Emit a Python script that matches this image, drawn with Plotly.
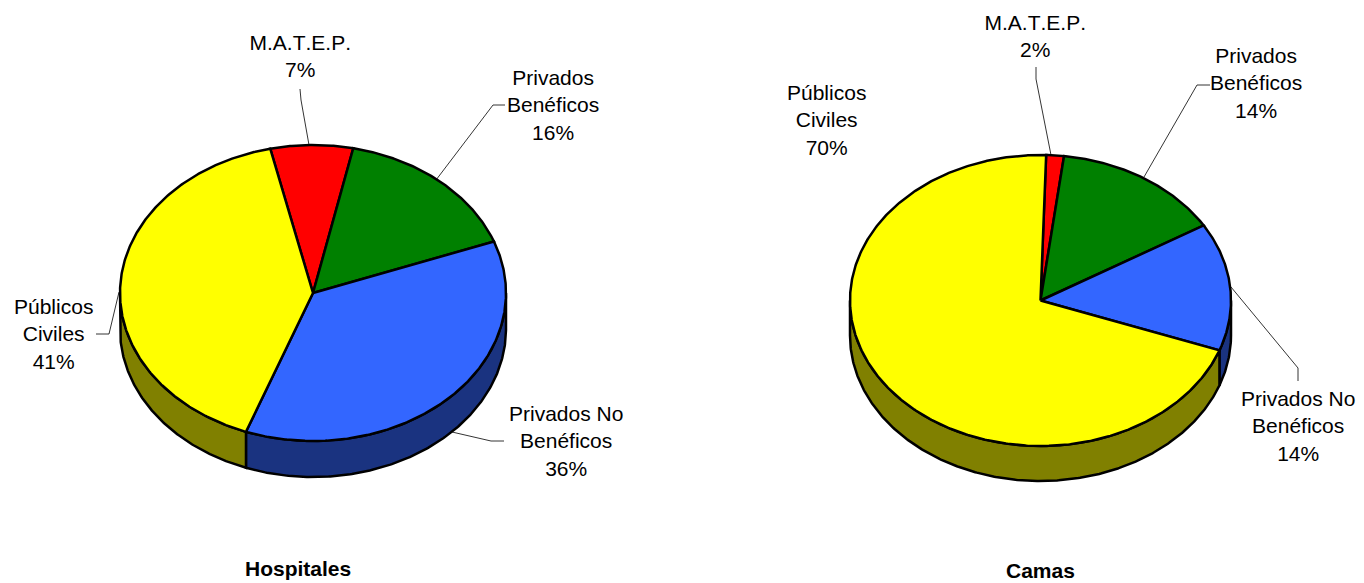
import numpy as np
import plotly.graph_objects as go

categories = ["M.A.T.E.P.", "Privados<br>Benéficos", "Privados No<br>Benéficos", "Públicos<br>Civiles"]
hospitales_values = [6.9, 16.0, 36.3, 40.8]
camas_values = [1.5, 14.4, 14.2, 69.9]
titles = ["Hospitales", "Camas"]

top_colors = ["#FF0000", "#008000", "#3366FF", "#FFFF00"]
side_colors = ["#800000", "#004000", "#1A3380", "#808000"]

# Layout of each pie: centre, radii, depth, start angle (clockwise from top), label and leader placement
pies = [
    dict(values=hospitales_values, title=titles[0], cx=313, cy=293, rx=193, ry=148, depth=36, start=347.2,
         title_pos=(298, 568),
         label_pos=[(300, 55.5), (553, 104.5), (566, 440.5), (53, 333.5)],
         leaders=[[(300, 89), (301, 100), (309, 145)],
                  [(505, 105), (493, 105), (436, 180)],
                  [(452, 432), (491, 441), (504, 441)],
                  [(96, 334), (109, 334), (119, 292)]]),
    dict(values=camas_values, title=titles[1], cx=1040.5, cy=300.5, rx=190.5, ry=145.5, depth=35, start=1.7,
         title_pos=(1040, 570.5),
         label_pos=[(1035, 35.5), (1256, 83), (1298, 425.5), (826, 120)],
         leaders=[[(1036, 67), (1036, 79), (1051, 155)],
                  [(1210, 85), (1197, 85), (1144, 177)],
                  [(1231, 287), (1298, 368), (1298, 381)]]),
]

FONT = "Liberation Sans, Arial, sans-serif"
LW = 2.5


def arc(p, a0, a1, dy=0.0, n=None):
    n = n or max(2, int(abs(a1 - a0) * 2) + 2)
    t = np.radians(np.linspace(a0, a1, n))
    return p["cx"] + p["rx"] * np.sin(t), p["cy"] - p["ry"] * np.cos(t) + dy


def poly(fig, x, y, fill, width=LW):
    fig.add_trace(go.Scatter(x=np.append(x, x[0]), y=np.append(y, y[0]), mode="lines", fill="toself",
                             fillcolor=fill, line=dict(color="black", width=width),
                             hoverinfo="skip", showlegend=False))


fig = go.Figure()
annotations = []
for p in pies:
    vals = np.array(p["values"], dtype=float)
    edges = p["start"] + np.concatenate([[0], np.cumsum(vals) / vals.sum() * 360])

    # Walls: only the front half (90..270 degrees) shows
    for i in range(len(vals)):
        for shift in (0, 360, -360):
            a0 = max(edges[i] + shift, 90)
            a1 = min(edges[i + 1] + shift, 270)
            if a1 > a0:
                x1, y1 = arc(p, a0, a1)
                x2, y2 = arc(p, a1, a0, dy=p["depth"])
                poly(fig, np.r_[x1, x2], np.r_[y1, y2], side_colors[i])

    # Top faces
    for i in range(len(vals)):
        x1, y1 = arc(p, edges[i], edges[i + 1])
        poly(fig, np.r_[p["cx"], x1], np.r_[p["cy"], y1], top_colors[i])

    # Leaders
    for pts in p["leaders"]:
        fig.add_trace(go.Scatter(x=[q[0] for q in pts], y=[q[1] for q in pts], mode="lines",
                                 line=dict(color="black", width=0.8), hoverinfo="skip", showlegend=False))

    # Labels
    for c, v, pos in zip(categories, vals, p["label_pos"]):
        annotations.append(dict(x=pos[0], y=pos[1], xref="x", yref="y", text=f"{c}<br>{v:.0f}%",
                                showarrow=False, xanchor="center", yanchor="middle", align="center",
                                font=dict(family=FONT, size=21, color="black")))
    annotations.append(dict(x=p["title_pos"][0], y=p["title_pos"][1], xref="x", yref="y",
                            text=f"<b>{p['title']}</b>", showarrow=False, xanchor="center", yanchor="middle",
                            font=dict(family=FONT, size=21, color="black")))

fig.update_layout(
    width=1364, height=583, margin=dict(l=0, r=0, t=0, b=0),
    paper_bgcolor="white", plot_bgcolor="white",
    xaxis=dict(range=[0, 1364], visible=False, fixedrange=True),
    yaxis=dict(range=[583, 0], visible=False, fixedrange=True),
    annotations=annotations, showlegend=False,
)
fig.write_html("out.html", config={"displayModeBar": False},
               post_script="document.body.style.margin='0';document.documentElement.style.overflow='hidden';"
                           "document.querySelectorAll('svg text').forEach(function(t){t.style.fontKerning='none';});")
